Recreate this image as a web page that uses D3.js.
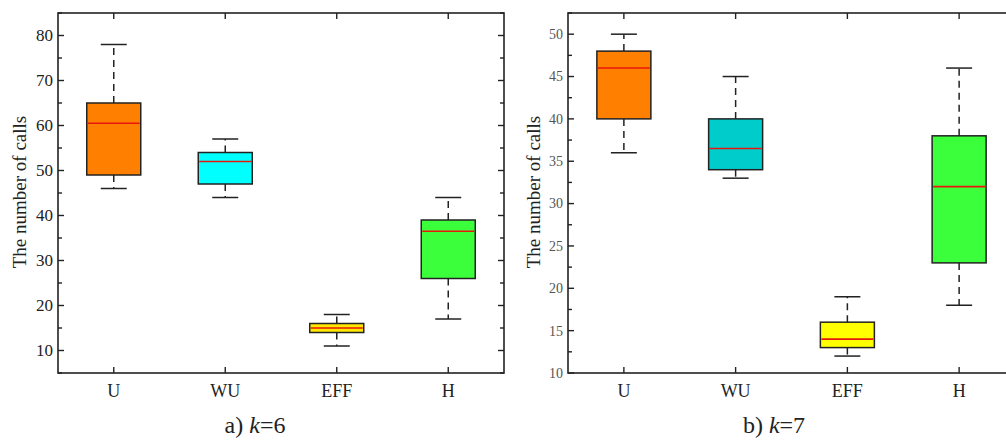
<!DOCTYPE html>
<html>
  <head>
    <script src="https://cdn.jsdelivr.net/npm/d3@7/dist/d3.min.js"></script>
    <style>
      body { margin: 0; background: #fff; }
      svg { display: block; }
      .frame { fill: none; stroke: #222; stroke-width: 1.6; }
      .tick-line { stroke: #222; stroke-width: 1.4; }
      .whisker { stroke: #222; stroke-width: 1.5; stroke-dasharray: 7 5; }
      .cap { stroke: #222; stroke-width: 1.5; }
      .box { stroke: #222; stroke-width: 1.5; }
      .median { stroke: #e8170c; stroke-width: 1.6; }
      text { font-family: "Liberation Serif", "Times New Roman", serif; fill: #222; }
    </style>
  </head>
  <body>
    <svg width="1006" height="441"></svg>
    <script>
      // categories on the x axis
      var categories = ["U", "WU", "EFF", "H"];

      // a) k=6
      var k6Min = [46, 44, 11, 17];
      var k6Q1 = [49, 47, 14, 26];
      var k6Median = [60.5, 52, 15, 36.5];
      var k6Q3 = [65, 54, 16, 39];
      var k6Max = [78, 57, 18, 44];
      var k6Ticks = [10, 20, 30, 40, 50, 60, 70, 80];
      var k6Colors = ["#ff8000", "#00ffff", "#ffe800", "#3cff3c"];

      // b) k=7
      var k7Min = [36, 33, 12, 18];
      var k7Q1 = [40, 34, 13, 23];
      var k7Median = [46, 36.5, 14, 32];
      var k7Q3 = [48, 40, 16, 38];
      var k7Max = [50, 45, 19, 46];
      var k7Ticks = [10, 15, 20, 25, 30, 35, 40, 45, 50];
      var k7Colors = ["#ff8000", "#00cccc", "#ffff00", "#3cff3c"];

      var svg = d3.select("svg");

      function drawPanel(p) {
        var g = svg.append("g");
        var x = d3.scalePoint().domain(categories).range([p.left, p.right]).padding(0.5);
        var y = d3.scaleLinear().domain(p.domain).range([p.bottom, p.top]);

        var rows = categories.map(function (c, i) {
          return { cat: c, min: p.min[i], q1: p.q1[i], med: p.med[i], q3: p.q3[i], max: p.max[i], color: p.colors[i] };
        });

        // y ticks, major and minor, on both left and right sides (inside)
        var step = p.ticks[1] - p.ticks[0];
        var minor = [];
        for (var v = p.domain[0]; v <= p.domain[1] + 1e-9; v += step / 2) minor.push(+v.toFixed(3));
        minor.forEach(function (v) {
          var isMajor = p.ticks.indexOf(v) > -1;
          var len = isMajor ? 6 : 4;
          g.append("line").attr("class", "tick-line")
            .attr("x1", p.left).attr("x2", p.left + len).attr("y1", y(v)).attr("y2", y(v));
          g.append("line").attr("class", "tick-line")
            .attr("x1", p.right).attr("x2", p.right - len).attr("y1", y(v)).attr("y2", y(v));
        });

        g.selectAll("text.ylab").data(p.ticks).enter().append("text")
          .attr("class", "ylab")
          .attr("x", p.left - 5)
          .attr("y", function (d) { return y(d); })
          .attr("dy", "0.35em")
          .attr("text-anchor", "end")
          .style("font-size", p.tickSize + "px")
          .style("fill", p.tickColor)
          .text(function (d) { return d; });

        // x ticks top and bottom
        categories.forEach(function (c) {
          g.append("line").attr("class", "tick-line")
            .attr("x1", x(c)).attr("x2", x(c)).attr("y1", p.bottom).attr("y2", p.bottom - 6);
          g.append("line").attr("class", "tick-line")
            .attr("x1", x(c)).attr("x2", x(c)).attr("y1", p.top).attr("y2", p.top + 6);
        });

        g.selectAll("text.xlab").data(categories).enter().append("text")
          .attr("class", "xlab")
          .attr("x", function (d) { return x(d); })
          .attr("y", p.bottom + 24)
          .attr("text-anchor", "middle")
          .style("font-size", "18px")
          .text(function (d) { return d; });

        // boxes
        var bw = 54, cw = 26;
        var b = g.selectAll("g.item").data(rows).enter().append("g").attr("class", "item");
        b.append("line").attr("class", "whisker")
          .attr("x1", function (d) { return x(d.cat); }).attr("x2", function (d) { return x(d.cat); })
          .attr("y1", function (d) { return y(d.q3); }).attr("y2", function (d) { return y(d.max); });
        b.append("line").attr("class", "whisker")
          .attr("x1", function (d) { return x(d.cat); }).attr("x2", function (d) { return x(d.cat); })
          .attr("y1", function (d) { return y(d.q1); }).attr("y2", function (d) { return y(d.min); });
        b.append("line").attr("class", "cap")
          .attr("x1", function (d) { return x(d.cat) - cw / 2; }).attr("x2", function (d) { return x(d.cat) + cw / 2; })
          .attr("y1", function (d) { return y(d.max); }).attr("y2", function (d) { return y(d.max); });
        b.append("line").attr("class", "cap")
          .attr("x1", function (d) { return x(d.cat) - cw / 2; }).attr("x2", function (d) { return x(d.cat) + cw / 2; })
          .attr("y1", function (d) { return y(d.min); }).attr("y2", function (d) { return y(d.min); });
        b.append("rect").attr("class", "box")
          .attr("x", function (d) { return x(d.cat) - bw / 2; })
          .attr("width", bw)
          .attr("y", function (d) { return y(d.q3); })
          .attr("height", function (d) { return y(d.q1) - y(d.q3); })
          .style("fill", function (d) { return d.color; });
        b.append("line").attr("class", "median")
          .attr("x1", function (d) { return x(d.cat) - bw / 2 + 1; }).attr("x2", function (d) { return x(d.cat) + bw / 2 - 1; })
          .attr("y1", function (d) { return y(d.med); }).attr("y2", function (d) { return y(d.med); });

        g.append("rect").attr("class", "frame")
          .attr("x", p.left).attr("y", p.top)
          .attr("width", p.right - p.left).attr("height", p.bottom - p.top);

        // axis title
        g.append("text")
          .attr("transform", "translate(" + p.titleX + "," + p.titleY + ") rotate(-90)")
          .attr("text-anchor", "middle")
          .attr("dy", "0.35em")
          .style("font-size", "19px")
          .text("The number of calls");

        // caption
        var cap = g.append("text")
          .attr("x", p.captionX).attr("y", 433)
          .attr("text-anchor", "middle")
          .style("font-size", "24px");
        cap.append("tspan").text(p.caption[0]);
        cap.append("tspan").style("font-style", "italic").text("k");
        cap.append("tspan").text(p.caption[1]);
      }

      drawPanel({
        left: 58, right: 504, top: 13, bottom: 373,
        domain: [5, 85], ticks: k6Ticks,
        min: k6Min, q1: k6Q1, med: k6Median, q3: k6Q3, max: k6Max, colors: k6Colors,
        tickSize: 17, tickColor: "#222",
        titleX: 19, titleY: 192, caption: ["a) ", "=6"], captionX: 255
      });

      drawPanel({
        left: 568, right: 1015, top: 13, bottom: 373,
        domain: [10, 52.5], ticks: k7Ticks,
        min: k7Min, q1: k7Q1, med: k7Median, q3: k7Q3, max: k7Max, colors: k7Colors,
        tickSize: 14, tickColor: "#555",
        titleX: 533, titleY: 192, caption: ["b) ", "=7"], captionX: 774
      });
    </script>
  </body>
</html>
